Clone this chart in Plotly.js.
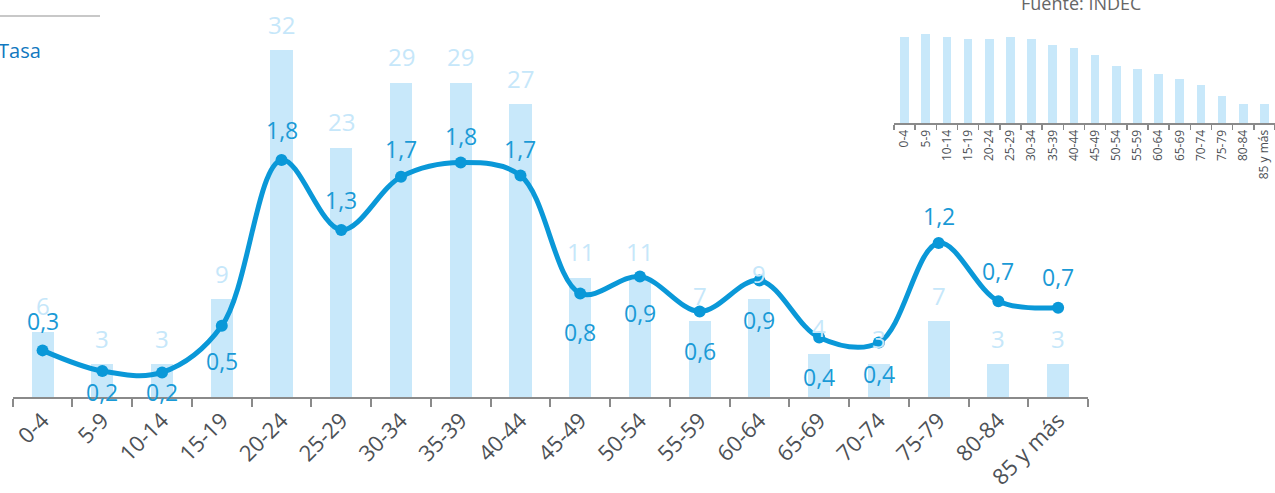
<!DOCTYPE html>
<html>
<head>
<meta charset="utf-8">
<script src="https://cdn.plot.ly/plotly-3.0.1.min.js"></script>
<style>html,body{margin:0;padding:0;background:#fff;}#chart{width:1275px;height:493px;}</style>
</head>
<body>
<div id="chart"></div>
<script>
// Age groups (main chart)
const categories = ["0-4","5-9","10-14","15-19","20-24","25-29","30-34","35-39","40-44","45-49","50-54","55-59","60-64","65-69","70-74","75-79","80-84","85 y más"];
// Bar values (light blue bars)
const barValues = [6,3,3,9,32,23,29,29,27,11,11,7,9,4,3,7,3,3];
// Tasa (line) values as plotted
const lineValues = [0.36,0.20,0.19,0.55,1.83,1.29,1.70,1.81,1.71,0.80,0.93,0.66,0.90,0.46,0.42,1.19,0.74,0.69];
// Tasa labels as printed
const lineLabels = ["0,3","0,2","0,2","0,5","1,8","1,3","1,7","1,8","1,7","0,8","0,9","0,6","0,9","0,4","0,4","1,2","0,7","0,7"];
// Inset chart (population structure)
const insetCategories = ["0-4","5-9","10-14","15-19","20-24","25-29","30-34","35-39","40-44","45-49","50-54","55-59","60-64","65-69","70-74","75-79","80-84","85 y más"];
const insetValues = [3452,3560,3452,3348,3348,3452,3348,3120,3012,2708,2280,2160,1960,1748,1520,1092,772,772];

const blue = '#0a98d8';
const lightBlue = '#c8e8fa';
const fontFam = '"Open Sans", "DejaVu Sans", sans-serif';

// style: vertical offset of each line label (px, plotly up-positive)
const lineLabelShift = [29,-21,-20,-35,30,30,28,27,27,-39,-36,-39,-40,-40,-31,27,30,31];

const traces = [
  {
    type: 'bar', x: categories, y: barValues, xaxis: 'x', yaxis: 'y',
    width: 0.37, marker: {color: lightBlue}, hoverinfo: 'skip'
  },
  {
    type: 'scatter', mode: 'lines+markers', x: categories, y: lineValues, xaxis: 'x', yaxis: 'y2',
    line: {color: blue, width: 5, shape: 'spline', smoothing: 1},
    marker: {color: blue, size: 12}, hoverinfo: 'skip', cliponaxis: false
  },
  {
    type: 'bar', x: insetCategories, y: insetValues, xaxis: 'x2', yaxis: 'y3',
    width: 0.41, marker: {color: lightBlue}, hoverinfo: 'skip'
  }
];

const annotations = [];
categories.forEach((c, i) => {
  annotations.push({
    x: c, y: barValues[i], xref: 'x', yref: 'y', text: String(barValues[i]),
    showarrow: false, yanchor: 'middle', yshift: 26,
    font: {family: fontFam, size: 24, color: '#c6e7fa'}
  });
});
categories.forEach((c, i) => {
  annotations.push({
    x: c, y: lineValues[i], xref: 'x', yref: 'y2', text: lineLabels[i],
    showarrow: false, yanchor: 'middle', yshift: lineLabelShift[i],
    font: {family: fontFam, size: 23, color: '#1a9ad6'}
  });
});
annotations.push({
  x: -4/1275, y: 1 - 50/493, xref: 'paper', yref: 'paper', xanchor: 'left', yanchor: 'middle',
  text: 'Tasa', showarrow: false, font: {family: fontFam, size: 20, color: '#1178c0'}
});
annotations.push({
  x: 1081/1275, y: 1 - 3/493, xref: 'paper', yref: 'paper', xanchor: 'center', yanchor: 'middle',
  text: 'Fuente: INDEC', showarrow: false, font: {family: fontFam, size: 18, color: '#666666'}
});

const layout = {
  width: 1275, height: 493,
  margin: {l: 0, r: 0, t: 0, b: 0},
  paper_bgcolor: '#ffffff', plot_bgcolor: 'rgba(0,0,0,0)',
  showlegend: false, bargap: 0,
  font: {family: fontFam},
  xaxis: {
    domain: [12.7/1275, 1088/1275], anchor: 'y', type: 'category',
    categoryorder: 'array', categoryarray: categories, range: [-0.5, categories.length - 0.5],
    showline: true, linecolor: '#8a8a8a', linewidth: 2,
    ticks: 'outside', tickson: 'boundaries', ticklen: 8, tickwidth: 2, tickcolor: '#8a8a8a',
    tickangle: -45, tickfont: {family: fontFam, size: 22, color: '#4d5156'},
    showgrid: false, zeroline: false, fixedrange: true
  },
  yaxis: {
    domain: [1 - 397/493, 1], range: [0, 397/10.84], visible: false, fixedrange: true
  },
  yaxis2: {
    overlaying: 'y', range: [0, 397/129.5], visible: false, fixedrange: true
  },
  xaxis2: {
    domain: [894/1275, 1], anchor: 'y3', type: 'category',
    categoryorder: 'array', categoryarray: insetCategories, range: [-0.5, insetCategories.length - 0.5],
    showline: true, linecolor: '#8a8a8a', linewidth: 2,
    ticks: 'outside', tickson: 'boundaries', ticklen: 5, tickwidth: 1.5, tickcolor: '#8a8a8a',
    tickangle: -90, tickfont: {family: fontFam, size: 12, color: '#4d5156'},
    showgrid: false, zeroline: false, fixedrange: true
  },
  yaxis3: {
    domain: [1 - 123/493, 1], anchor: 'x2', range: [0, 123*40], visible: false, fixedrange: true
  },
  shapes: [
    {type: 'line', xref: 'paper', yref: 'paper', x0: 0, x1: 100/1275, y0: 1 - 16/493, y1: 1 - 16/493,
     line: {color: '#c8c8c8', width: 2}}
  ],
  annotations: annotations
};

Plotly.newPlot('chart', traces, layout, {displayModeBar: false, staticPlot: true});
</script>
</body>
</html>
